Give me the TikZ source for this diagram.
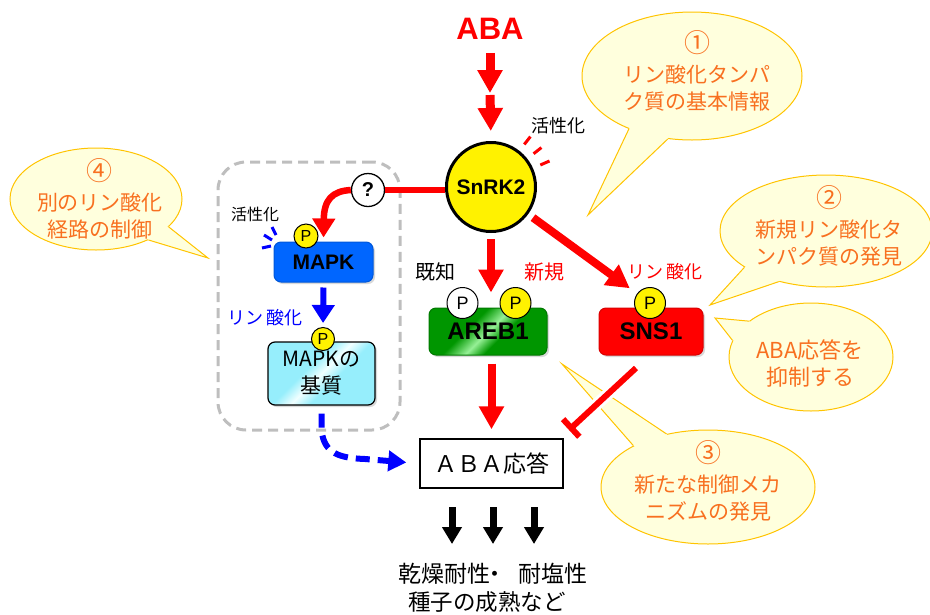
\documentclass[tikz,border=0pt]{standalone}
\usepackage{fontspec}
\setmainfont{Liberation Sans}
\newfontfamily\jp{Noto Sans CJK JP}
\usetikzlibrary{arrows.meta,shapes.geometric,shadows,calc}
\definecolor{bubfill}{RGB}{255,255,221}
\definecolor{bubline}{RGB}{255,196,0}
\definecolor{bubtext}{RGB}{248,112,32}
\definecolor{rd}{RGB}{255,0,0}
\definecolor{bl}{RGB}{0,0,255}
\definecolor{mapkblue}{RGB}{0,102,255}
\definecolor{gr}{RGB}{0,150,0}
\definecolor{lgr}{RGB}{150,240,150}
\definecolor{cy}{RGB}{150,238,252}
\definecolor{lcy}{RGB}{240,255,255}
\definecolor{gy}{RGB}{190,190,190}
\pgfdeclarehorizontalshading{arebshade}{100bp}{color(0bp)=(gr);color(40bp)=(gr);color(50bp)=(lgr);color(58bp)=(gr);color(100bp)=(gr)}
\pgfdeclarehorizontalshading{subshade}{100bp}{color(0bp)=(cy);color(42bp)=(cy);color(50bp)=(lcy);color(58bp)=(cy);color(100bp)=(cy)}
\newcommand\bubtail[4]{%
  \fill[bubfill] (#1.#2) -- (#4) -- (#1.#3) -- ($(#1.#3)!0.12!(#1.center)$) -- ($(#1.#2)!0.12!(#1.center)$) -- cycle;
  \draw[bubline, line width=1pt, line join=miter] (#1.#2) -- (#4) -- (#1.#3);
}
\tikzset{
 bubble/.style={ellipse, fill=bubfill, draw=bubline, line width=1pt, inner sep=0pt},
 bubtxt/.style={text=bubtext, align=center, font=\jp\fontsize{21}{27}\selectfont, inner sep=0pt},
 redarrow/.style={draw=rd, line width=8pt, -{Triangle[width=24pt,length=23pt]}},
 bluearrow/.style={draw=bl, line width=6pt, -{Triangle[width=22pt,length=18pt]}},
 blackarrow/.style={draw=black, line width=7pt, -{Triangle[width=19pt,length=17pt]}},
 pcirc/.style={circle, draw=black, line width=1pt, fill=yellow, inner sep=0pt, font=\fontsize{18}{18}\selectfont},
 jlabel/.style={font=\jp\fontsize{18}{18}\selectfont, inner sep=0pt},
 protbox/.style={rectangle, rounded corners=7pt, inner sep=0pt, font=\bfseries\fontsize{24}{24}\selectfont,
   drop shadow={shadow xshift=2pt, shadow yshift=-2pt, opacity=0.3}},
}
\begin{document}
\begin{tikzpicture}[x=1pt,y=-1pt]
\useasboundingbox (0,0) rectangle (930,614);
% ---------- callouts ----------
\node[bubble, minimum width=220pt, minimum height=128pt] (b1) at (692,76) {};
\node[bubble, minimum width=212pt, minimum height=112pt] (b2) at (826,231) {};
\node[bubble, minimum width=164pt, minimum height=108pt] (b3) at (811,357) {};
\node[bubble, minimum width=214pt, minimum height=114pt] (b4) at (708,487) {};
\node[bubble, minimum width=172pt, minimum height=102pt] (b5) at (96,199) {};
\coordinate (t1) at (588,215);
\coordinate (t2) at (710,305);
\coordinate (t3) at (715,318);
\coordinate (t4) at (562,364);
\coordinate (t5) at (208,258);
\bubtail{b1}{220}{249}{t1}
\bubtail{b2}{204}{227}{t2}
\bubtail{b3}{150}{168}{t3}
\bubtail{b4}{128}{151}{t4}
\bubtail{b5}{339}{322}{t5}
\node[bubtxt] (tx1) at (697,71) {{\fontsize{26}{27}\selectfont ①}\\[3pt]リン酸化タンパ\\ク質の基本情報};
\node[bubtxt] (tx2) at (829,226) {{\fontsize{26}{27}\selectfont ②}\\[3pt]新規リン酸化タ\\ンパク質の発見};
\node[bubtxt, font=\jp\fontsize{22}{27}\selectfont] (tx3) at (810,363) {ABA応答を\\抑制する};
\node[bubtxt] (tx4) at (708,481) {{\fontsize{26}{27}\selectfont ③}\\[3pt]新たな制御メカ\\ニズムの発見};
\node[bubtxt] (tx5) at (100,199) {{\fontsize{26}{27}\selectfont ④}\\[3pt]別のリン酸化\\経路の制御};
% ---------- MAPK group ----------
\node[draw=gy, line width=3pt, dash pattern=on 10pt off 6pt, rounded corners=28pt,
      minimum width=182pt, minimum height=268pt, inner sep=0pt] (grp) at (309,296) {};
% ---------- ABA and SnRK2 ----------
\node[font=\bfseries\fontsize{31}{31}\selectfont, text=rd, inner sep=0pt] (aba) at (490,29) {ABA};
\coordinate (mid) at (490,93);
\node[circle, fill=yellow, draw=black, line width=3pt, minimum size=89pt, inner sep=0pt,
      font=\bfseries\fontsize{21}{21}\selectfont] (snrk) at (491,187) {SnRK2};
\draw[redarrow, line width=9pt, shorten <=13pt] (aba.south) -- (mid);
\draw[redarrow, line width=9pt, shorten <=2pt, shorten >=10pt] (mid) -- (snrk.north);
\node[jlabel] (act1) at (558,126) {活性化};
\draw[rd, line width=3pt] (524.3,144.4) -- (530.4,136.6);
\draw[rd, line width=3pt] (533.6,153.7) -- (541.4,147.6);
\draw[rd, line width=3pt] (540.3,165.0) -- (549.5,161.0);
% ---------- ? and MAPK ----------
\node[circle, draw=black, fill=white, line width=1.3pt, minimum size=33pt, inner sep=0pt,
      font=\bfseries\fontsize{20}{20}\selectfont] (q) at (368,190) {?};
\draw[rd, line width=6.5pt] (q.east) -- (q.east -| snrk.west);
\node[protbox, fill=mapkblue, draw=mapkblue!85!black, line width=1pt, minimum width=99pt, minimum height=40pt,
      font=\bfseries\fontsize{21}{21}\selectfont] (mapk) at (323.5,262) {MAPK};
\draw[rd, line width=6.5pt, -{Triangle[width=22pt,length=19pt]}, shorten >=4pt]
  (q.west) .. controls (332,191) and (324,200) .. (mapk.north);
\node[pcirc, minimum size=24pt, font=\fontsize{16}{16}\selectfont] (pmapk) at (306,236) {P};
\node[jlabel, font=\jp\fontsize{16}{16}\selectfont] (act2) at (255,214) {活性化};
\draw[bl, line width=3pt] (262,248) -- (271,246);
\draw[bl, line width=3pt] (264,235) -- (272,240);
\draw[bl, line width=3pt] (272,227) -- (276,235);
\node[protbox, shade, shading=subshade, shading angle=-45, draw=black, line width=1.2pt,
      minimum width=107pt, minimum height=63pt, align=center,
      font=\jp\fontsize{21}{27}\selectfont] (sub) at (321.5,373.5) {MAPKの\\基質};
\node[pcirc, minimum size=23pt, font=\fontsize{16}{16}\selectfont] (psub) at (323,339) {P};
\draw[bluearrow, shorten <=5pt, shorten >=4pt] (mapk.south) -- (psub.north);
\node[jlabel, text=bl] (phos1) at (265,318) {リン\hspace{3pt}酸化};
% ---------- AREB1 / SNS1 ----------
\node[protbox, shade, shading=arebshade, shading angle=-45, draw=gr!80!black, line width=1pt,
      minimum width=118pt, minimum height=47pt] (areb) at (488,331.5) {AREB1};
\node[protbox, fill=rd, draw=rd!85!black, line width=1pt,
      minimum width=104pt, minimum height=47pt] (sns) at (651,331.5) {SNS1};
\draw[redarrow, shorten <=6pt, shorten >=15pt] (snrk.south) -- (snrk.south |- areb.north);
\node[pcirc, fill=white, minimum size=31pt] (pa1) at (462.5,303) {P};
\node[pcirc, minimum size=31pt] (pa2) at (515.5,303) {P};
\node[pcirc, minimum size=31pt] (psns) at (650,303) {P};
\draw[redarrow, shorten <=6pt, shorten >=25pt] (snrk) -- (psns.center);
\node[jlabel, font=\jp\fontsize{20}{20}\selectfont] (known) at (435,272) {既知};
\node[jlabel, font=\jp\fontsize{20}{20}\selectfont, text=rd] (novel) at (544,272) {新規};
\node[jlabel, text=rd] (phos2) at (665,272) {リン\hspace{3pt}酸化};
% ---------- ABA response ----------
\node[draw=black, fill=white, line width=1.5pt, minimum width=143pt, minimum height=49pt, inner sep=0pt,
      font=\jp\fontsize{23}{23}\selectfont] (resp) at (491.5,463.5) {ＡＢＡ応答};
\draw[redarrow, shorten <=8pt, shorten >=9pt] (resp.north |- areb.south) -- (resp.north);
\coordinate (inhs) at (636,368);
\coordinate (inhe) at (569,430);
\draw[white, line width=12pt, shorten >=8pt] (inhs) -- (inhe);
\draw[rd, line width=6pt, -{Bar[width=24pt]}] (inhs) -- (inhe);
\draw[bl, line width=6pt, dash pattern=on 14pt off 8pt, -{Triangle[width=20pt,length=18pt]}, shorten <=8pt, shorten >=13pt]
  (sub.south) -- (321.5,430) .. controls (324,454) and (340,458) .. (365,459) -- (resp.west);
% ---------- outputs ----------
\coordinate (o1a) at (452,507); \coordinate (o1b) at (452,544);
\coordinate (o2a) at (493,507); \coordinate (o2b) at (493,544);
\coordinate (o3a) at (534,507); \coordinate (o3b) at (534,544);
\draw[blackarrow] (o1a) -- (o1b);
\draw[blackarrow] (o2a) -- (o2b);
\draw[blackarrow] (o3a) -- (o3b);
\node[font=\jp\fontsize{23}{23}\selectfont, inner sep=0pt] (out1) at (493,574) {乾燥耐性\hspace{-7pt}・\hspace{12pt}耐塩性};
\node[font=\jp\fontsize{22.5}{23}\selectfont, inner sep=0pt] (out2) at (487,602) {種子の成熟など};
\end{tikzpicture}
\end{document}
